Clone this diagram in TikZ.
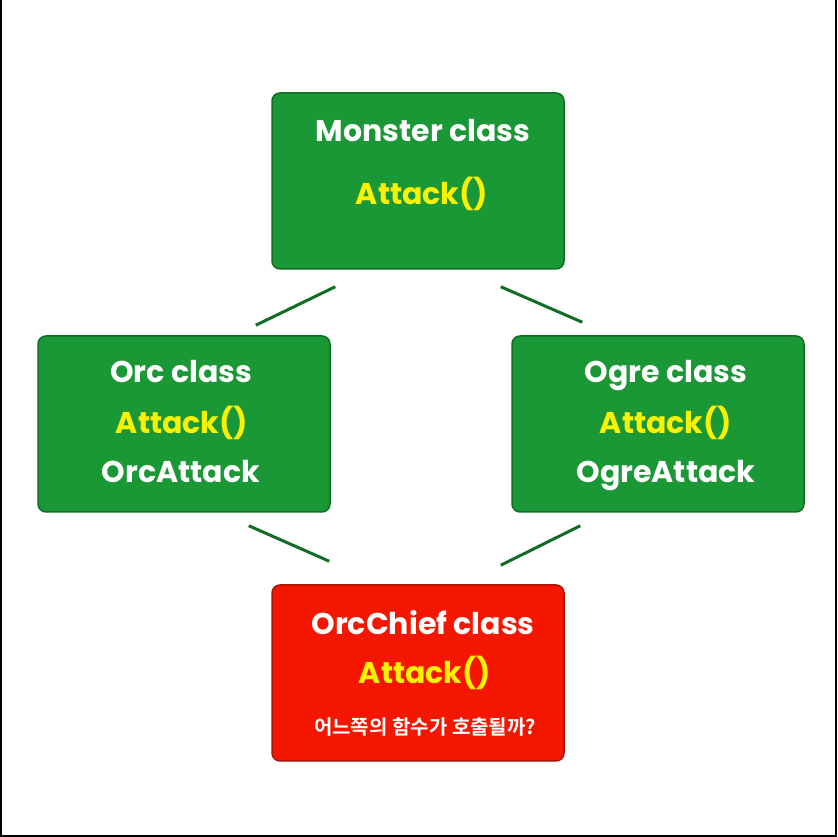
\documentclass[tikz,border=0pt]{standalone}
\usepackage{fontspec}
\newfontfamily\krfont{Noto Sans CJK KR}[BoldFont={Noto Sans CJK KR Bold}]
\newfontfamily\latfont{Poppins}
\usetikzlibrary{positioning,calc}
\definecolor{boxgreen}{RGB}{26,152,53}
\definecolor{edgegreen}{RGB}{16,110,36}
\definecolor{boxred}{RGB}{245,22,0}
\definecolor{edgered}{RGB}{170,20,0}
\definecolor{textyellow}{RGB}{250,242,0}

\begin{document}
\begin{tikzpicture}[x=1pt,y=1pt]
  \tikzstyle{box}=[draw=edgegreen, fill=boxgreen, line width=1.5pt, rounded corners=8pt, minimum width=292pt, minimum height=176pt, inner sep=0pt]
  \tikzstyle{hot}=[box, draw=edgered, fill=boxred]
  \tikzstyle{title}=[text=white, font=\latfont\bfseries\fontsize{30}{32}\selectfont, inner sep=0pt, anchor=base]
  \tikzstyle{meth}=[title, text=textyellow]
  \tikzstyle{ask}=[title, font=\krfont\bfseries\fontsize{20}{22}\selectfont]
  \tikzstyle{link}=[draw=edgegreen, line width=3pt]
  \def\hsp{234}
  \def\vsp{243}

  \useasboundingbox (0,0) rectangle (837,837);
  \draw [line width=2.5pt] (1,837) -- (1,1.2) -- (836,1.2) -- (836,837);

  \node [box] (monster) at (418,656) {};
  \node [box] (orc) at ($(monster)+(-\hsp,-\vsp)$) {};
  \node [box] (ogre) at ($(orc)+(474,0)$) {};
  \node [hot] (chief) at ($(monster)+(0,-492)$) {};

  \node [title] (monstertit) at ($(monster)+(5,39)$) {Monster class};
  \node [meth] (monsteratk) at ($(monster)+(4,-24)$) {Attack()};
  \node [title] (orctit) at ($(orc)+(-3,41)$) {Orc class};
  \node [meth] (orcatk) at ($(orc)+(-2,-10)$) {Attack()};
  \node [title] (orcown) at ($(orc)+(-3,-59)$) {OrcAttack};
  \node [title] (ogretit) at ($(ogre)+(8,41)$) {Ogre class};
  \node [meth] (ogreatk) at ($(ogre)+(8,-10)$) {Attack()};
  \node [title] (ogreown) at ($(ogre)+(8,-59)$) {OgreAttack};
  \node [title] (chieftit) at ($(chief)+(5,38)$) {OrcChief class};
  \node [meth] (chiefatk) at ($(chief)+(7,-11)$) {Attack()};
  \node [ask] (chiefask) at ($(chief)+(7,-62)$) {어느쪽의 함수가 호출될까?};

  \coordinate (mo1) at ($(monster.south west)+(64,-17)$);
  \coordinate (mo2) at ($(orc.north east)+(-75,10)$);
  \coordinate (mg1) at ($(monster.south east)+(-64,-17)$);
  \coordinate (mg2) at ($(ogre.north west)+(71,13)$);
  \coordinate (oc1) at ($(orc.south east)+(-82,-13)$);
  \coordinate (oc2) at ($(chief.north west)+(58,23)$);
  \coordinate (gc1) at ($(ogre.south west)+(69,-13)$);
  \coordinate (gc2) at ($(chief.north east)+(-64,19)$);
  \draw [link] (mo1) -- (mo2);
  \draw [link] (mg1) -- (mg2);
  \draw [link] (oc1) -- (oc2);
  \draw [link] (gc1) -- (gc2);
\end{tikzpicture}
\end{document}
